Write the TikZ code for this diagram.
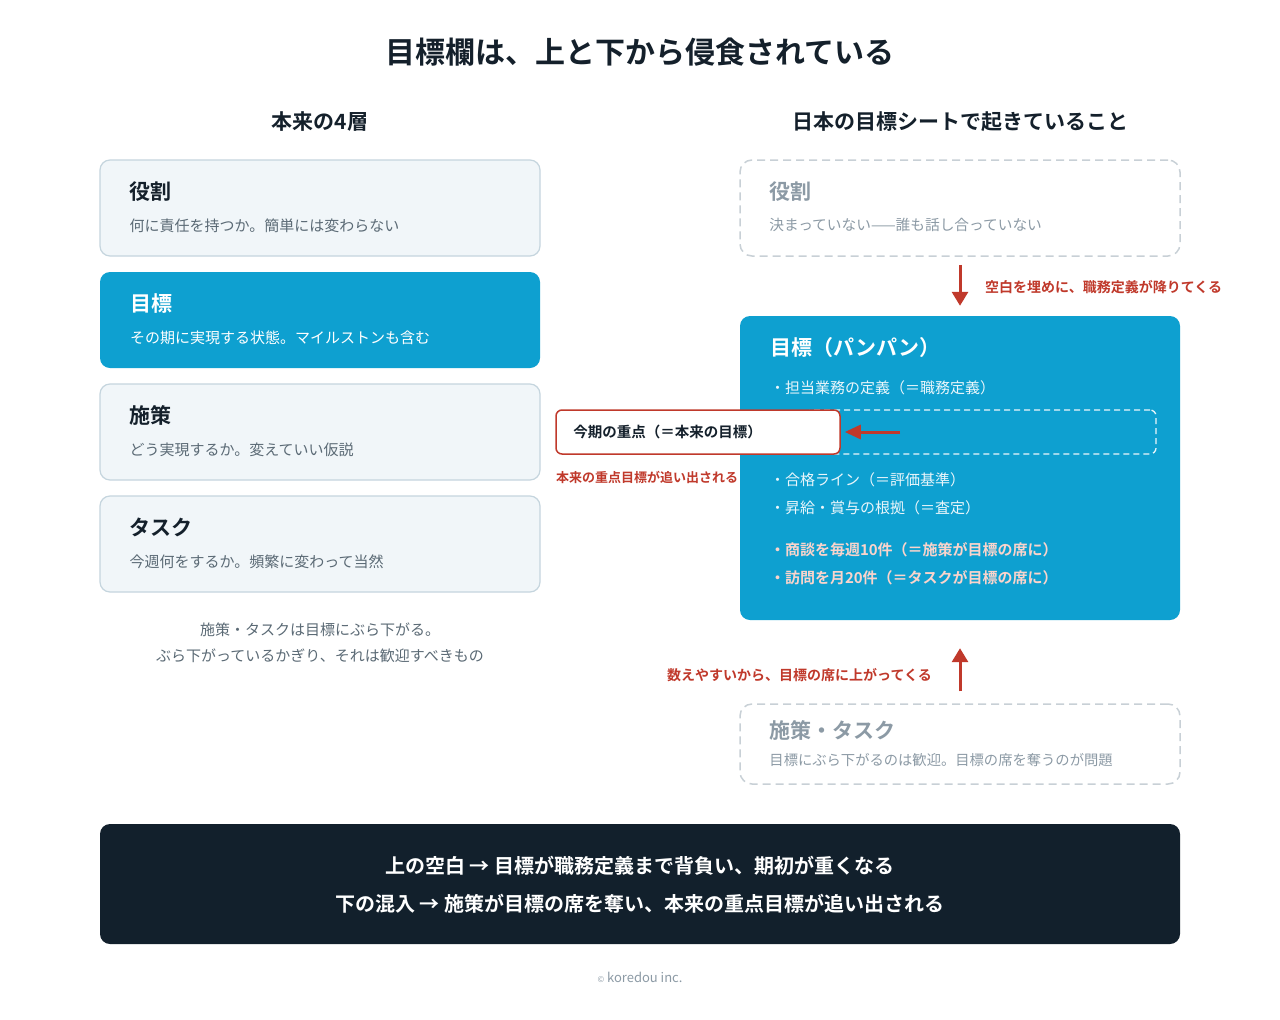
\documentclass[tikz,border=0pt]{standalone}
\usepackage{fontspec}
\setmainfont{Noto Sans CJK JP}[BoldFont = {Noto Sans CJK JP Bold}]
\usepackage{xcolor}
\usepackage{tikz}
\usetikzlibrary{arrows.meta}
\definecolor{Ink}{HTML}{14202B}
\definecolor{Body}{HTML}{5B6A75}
\definecolor{LayerFill}{HTML}{F1F6F9}
\definecolor{LayerLine}{HTML}{C5D5DE}
\definecolor{GoalBlue}{HTML}{0EA0D0}
\definecolor{GhostText}{HTML}{8C9AA5}
\definecolor{GhostLine}{HTML}{C8D0D6}
\definecolor{Alert}{HTML}{C0392B}
\definecolor{Pink}{HTML}{FAD4CC}
\definecolor{Night}{HTML}{12202C}
\definecolor{Soft}{HTML}{EAF6FB}
\tikzset{layer/.style = {draw = LayerLine, fill = LayerFill, rounded corners = 10pt, line width = 1.2pt, minimum width = 440pt, minimum height = 96pt}}
\tikzset{goalbox/.style = {fill = GoalBlue, rounded corners = 10pt, minimum width = 440pt}}
\tikzset{ghost/.style = {draw = GhostLine, dash pattern = on 8pt off 5pt, rounded corners = 12pt, line width = 1.5pt, minimum width = 440pt}}
\tikzset{head/.style = {anchor = west, inner sep = 0pt, font = \bfseries\fontsize{21}{24}\selectfont}}
\tikzset{desc/.style = {anchor = west, inner sep = 0pt, font = \fontsize{15}{18}\selectfont}}
\tikzset{note/.style = {inner sep = 0pt, text = Alert, font = \bfseries\fontsize{14}{16}\selectfont}}
\tikzset{push/.style = {draw = Alert, line width = 3pt, -{Triangle[length = 14pt, width = 16pt]}}}

\begin{document}
\begin{tikzpicture}[x = 1pt, y = -1pt]
    \useasboundingbox [fill = white] (0, 0) rectangle (1280, 1020);
    \node (title) [inner sep = 0pt, text = Ink, font = \bfseries\fontsize{30}{34}\selectfont] at (640, 52) {目標欄は、上と下から侵食されている};
    \node (ltitle) [inner sep = 0pt, text = Ink, font = \bfseries\fontsize{21}{24}\selectfont] at (320, 122) {本来の4層};
    \node (rtitle) [inner sep = 0pt, text = Ink, font = \bfseries\fontsize{21}{24}\selectfont] at (960, 122) {日本の目標シートで起きていること};
    % left: the four layers
    \foreach \n/\y/\h/\d in {role/208/役割/何に責任を持つか。簡単には変わらない, plan/432/施策/どう実現するか。変えていい仮説, task/544/タスク/今週何をするか。頻繁に変わって当然} {
        \node [layer] (L\n) at (320, \y) {};
        \node [head, text = Ink] (L\n-h) at ([shift = {(30, 32)}] L\n.north west) {\h};
        \node [desc, text = Body] (L\n-d) at ([shift = {(30, 66)}] L\n.north west) {\d};
    }
    \node [goalbox, minimum height = 96pt] (Lgoal) at (320, 320) {};
    \node [head, text = white] (Lgoal-h) at ([shift = {(30, 32)}] Lgoal.north west) {目標};
    \node [desc, text = white] (Lgoal-d) at ([shift = {(30, 66)}] Lgoal.north west) {その期に実現する状態。マイルストンも含む};
    \node (lcap1) [desc, anchor = center, text = Body] at (320, 630) {施策・タスクは目標にぶら下がる。};
    \node (lcap2) [desc, anchor = center, text = Body] at (320, 656) {ぶら下がっているかぎり、それは歓迎すべきもの};
    % right: what happens on the sheet
    \node [ghost, minimum height = 96pt] (Jrole) at (960, 208) {};
    \node [head, text = GhostText] (Jrole-h) at ([shift = {(30, 32)}] Jrole.north west) {役割};
    \node [desc, text = GhostText, font = \fontsize{14.7}{18}\selectfont] (Jrole-d) at ([shift = {(30, 66)}] Jrole.north west) {決まっていない——誰も話し合っていない};
    \node [goalbox, minimum height = 304pt] (Jgoal) at (960, 468) {};
    \node [head, text = white] (Jgoal-h) at ([shift = {(30, 32)}] Jgoal.north west) {目標（パンパン）};
    \foreach \t/\y/\i in {・担当業務の定義（＝職務定義）/72/1, ・合格ライン（＝評価基準）/164/2, ・昇給・賞与の根拠（＝査定）/192/3} {
        \node [desc, text = Soft] (Jitem\i) at ([shift = {(30, \y)}] Jgoal.north west) {\t};
    }
    \foreach \t/\y/\i in {・商談を毎週10件（＝施策が目標の席に）/234/4, ・訪問を月20件（＝タスクが目標の席に）/262/5} {
        \node [desc, text = Pink, font = \bfseries\fontsize{15}{18}\selectfont] (Jitem\i) at ([shift = {(30, \y)}] Jgoal.north west) {\t};
    }
    \node (slot) [draw = Soft, dash pattern = on 6pt off 4pt, line width = 1.3pt, rounded corners = 6pt, minimum width = 350pt, minimum height = 44pt] at (981, 432) {};
    \node (focus) [draw = Alert, fill = white, line width = 1.5pt, rounded corners = 6pt, minimum width = 284pt, minimum height = 44pt] at (698, 432) {};
    \node (focus-t) [anchor = west, inner sep = 0pt, text = Ink, font = \bfseries\fontsize{14.5}{18}\selectfont] at ([xshift = 18pt] focus.west) {今期の重点（＝本来の目標）};
    \node (focus-n) [note, anchor = west, font = \bfseries\fontsize{13}{16}\selectfont] at (556, 477) {本来の重点目標が追い出される};
    \coordinate (vacated) at (900, 432);
    \draw [push, -{Triangle[length = 16pt, width = 14pt]}] (vacated) -- ([xshift = 4pt] focus.east);
    \node [ghost, minimum height = 80pt] (Jtask) at (960, 744) {};
    \node [head, text = GhostText] (Jtask-h) at ([shift = {(30, 27)}] Jtask.north west) {施策・タスク};
    \node [desc, text = GhostText, font = \fontsize{14.3}{18}\selectfont] (Jtask-d) at ([shift = {(30, 57)}] Jtask.north west) {目標にぶら下がるのは歓迎。目標の席を奪うのが問題};
    \draw [push, shorten <= 8pt, shorten >= 10pt] (Jrole) -- (Jgoal);
    \node (down-n) [note, anchor = west] at (985, 287) {空白を埋めに、職務定義が降りてくる};
    \draw [push, shorten <= 12pt, shorten >= 28pt] (Jtask) -- (Jgoal);
    \node (up-n) [note, anchor = east] at (932, 675) {数えやすいから、目標の席に上がってくる};
    % bottom summary
    \node (sum) [fill = Night, rounded corners = 10pt, minimum width = 1080pt, minimum height = 120pt] at (640, 884) {};
    \node (sum1) [inner sep = 0pt, text = white, font = \bfseries\fontsize{20}{24}\selectfont] at ([yshift = 18pt] sum.center) {上の空白 → 目標が職務定義まで背負い、期初が重くなる};
    \node (sum2) [inner sep = 0pt, text = white, font = \bfseries\fontsize{20}{24}\selectfont] at ([yshift = -20pt] sum.center) {下の混入 → 施策が目標の席を奪い、本来の重点目標が追い出される};
    \node (foot) [inner sep = 0pt, text = GhostText, font = \fontsize{13}{16}\selectfont] at (640, 977) {{\fontsize{8}{10}\selectfont ©} koredou inc.};
\end{tikzpicture}
\end{document}
